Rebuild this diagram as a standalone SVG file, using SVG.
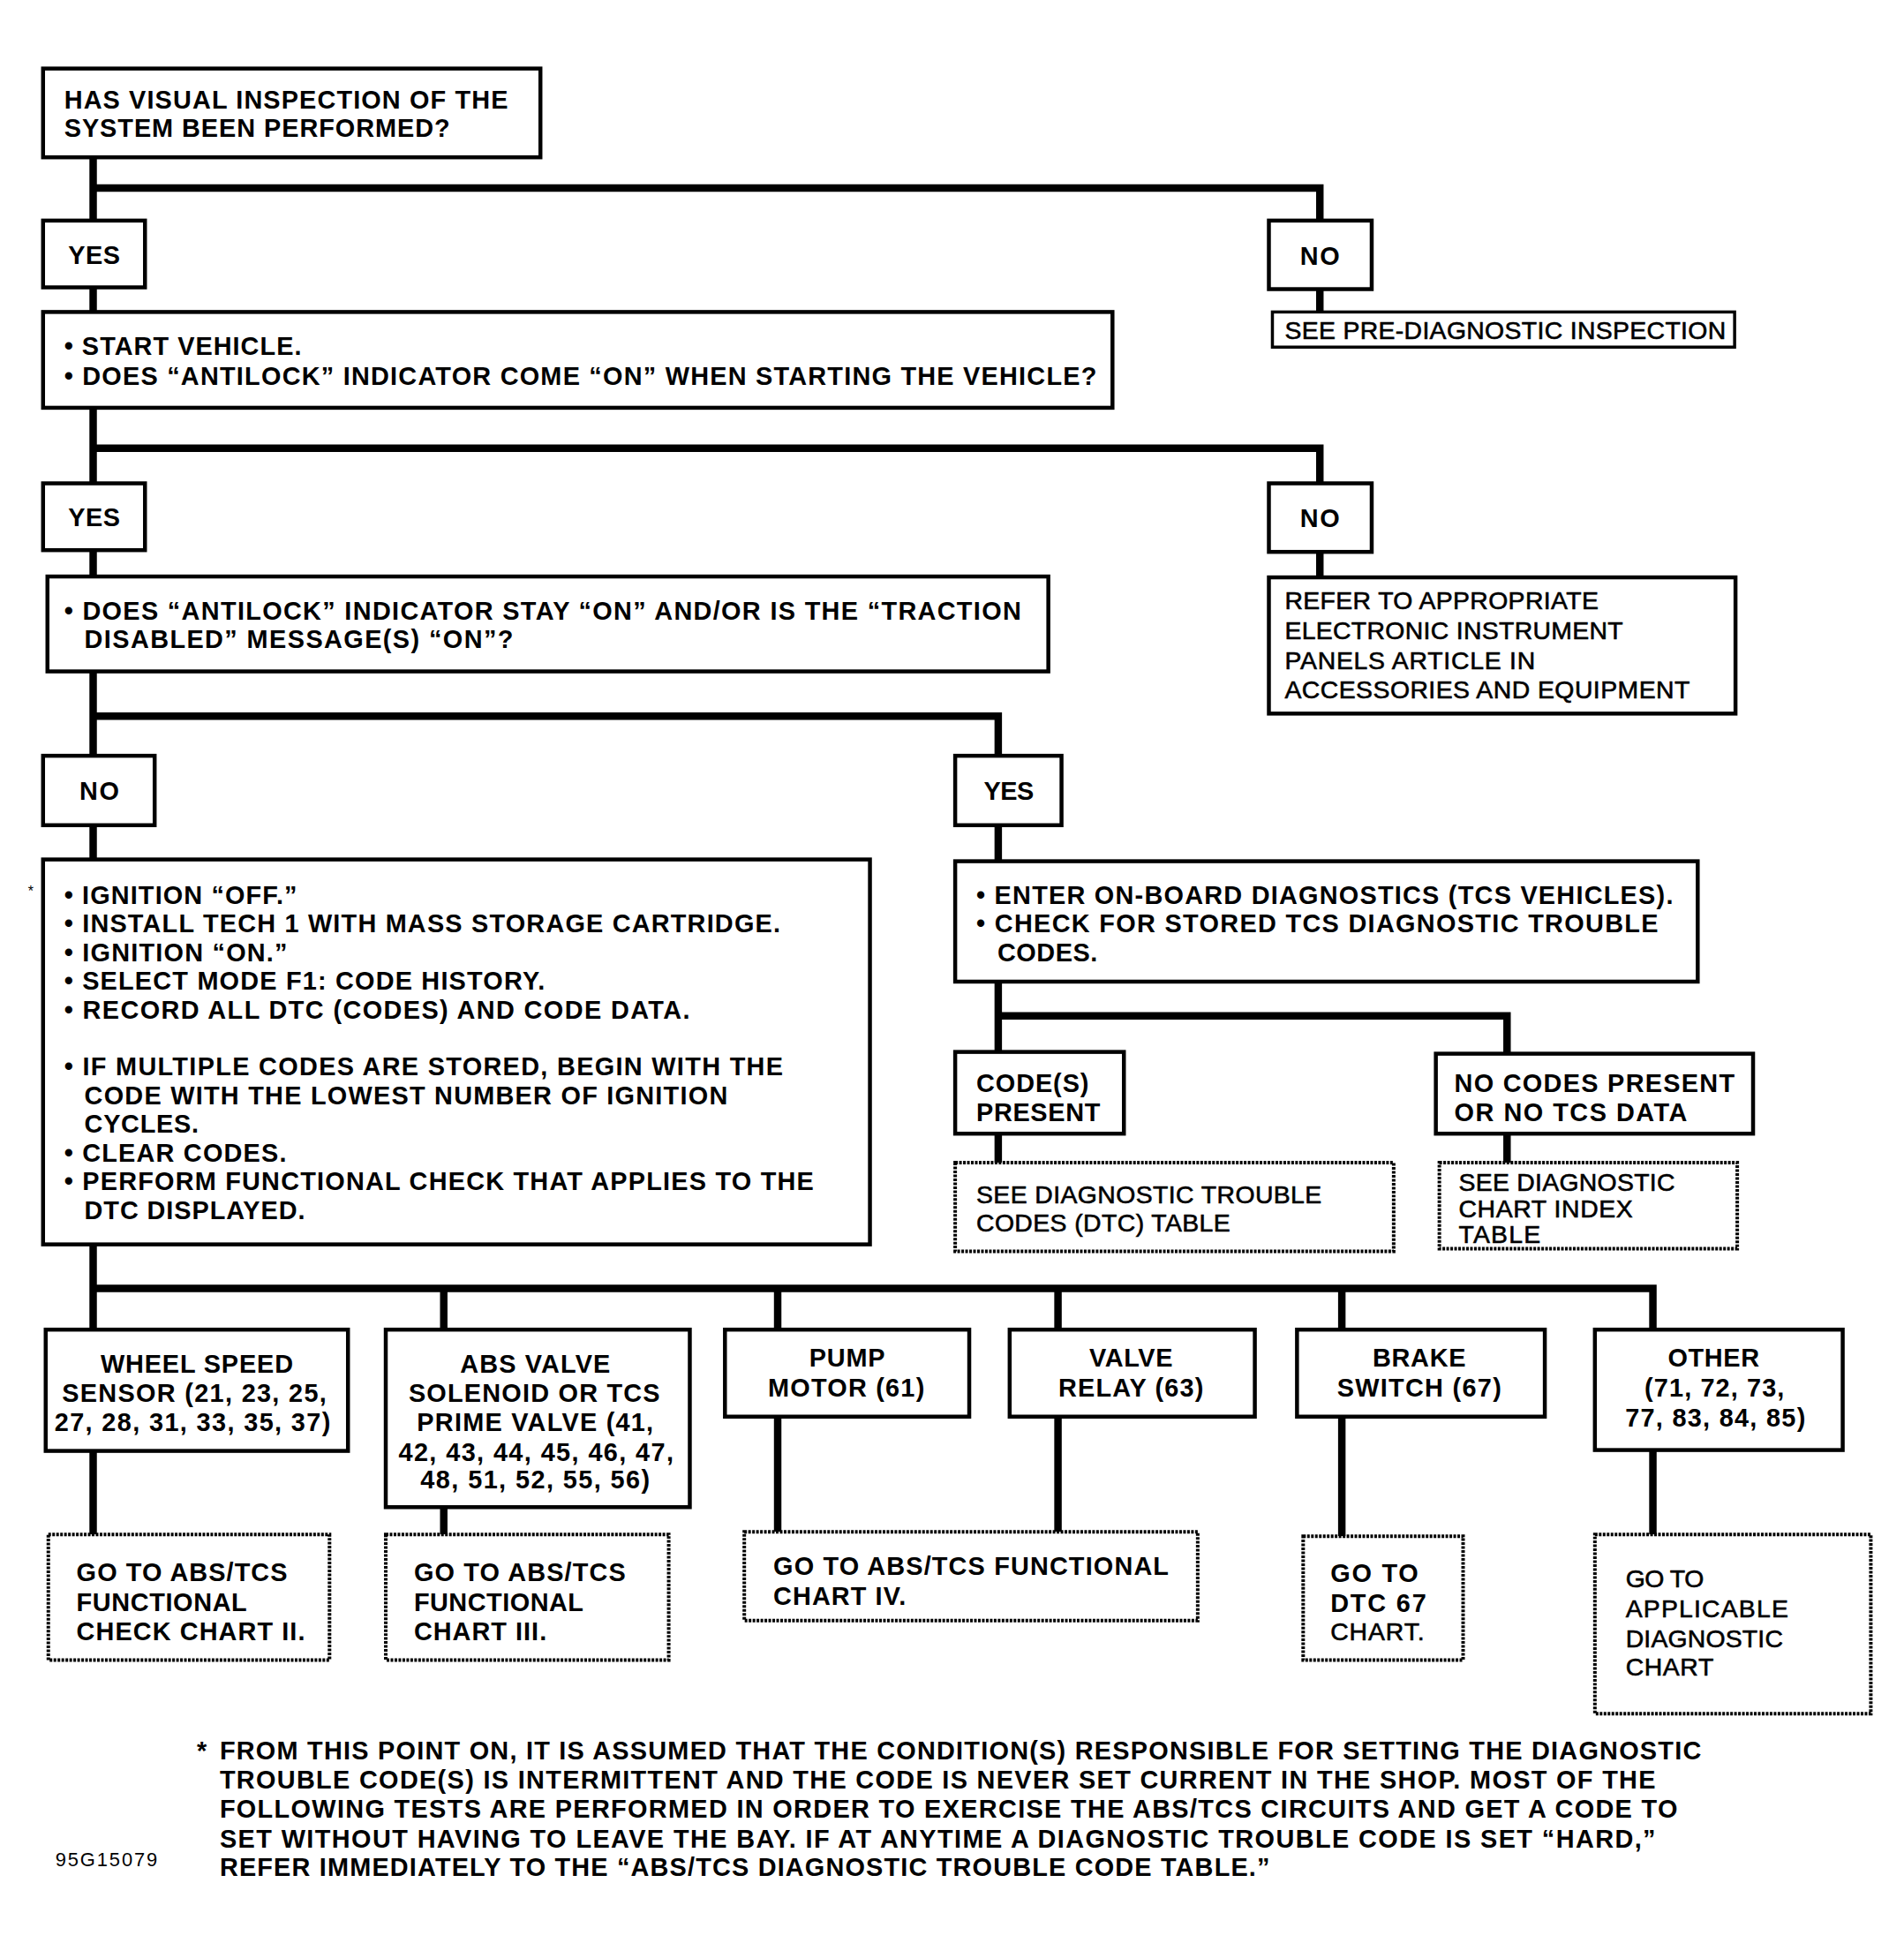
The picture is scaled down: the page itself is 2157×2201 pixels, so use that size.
<svg xmlns="http://www.w3.org/2000/svg" width="2157" height="2201" viewBox="0 0 2157 2201">
<style>
.box{fill:#fff;stroke:#000;stroke-width:4.5}
.thin{stroke-width:3.5}
.dash{fill:#fff;stroke:#000;stroke-width:4;stroke-dasharray:3 1.5}
text{font-family:"Liberation Sans",Arial,Helvetica,sans-serif;font-weight:bold;font-size:29px;fill:#000}
.m{font-weight:normal;font-size:28.5px;stroke:#000;stroke-width:0.6}
.c{text-anchor:middle}
.conn path{fill:none;stroke:#000;stroke-width:8.5;stroke-linejoin:miter;stroke-linecap:butt}
</style>
<rect width="2157" height="2201" fill="#fff"/>
<g transform="scale(0.9955)">
<g class="conn" id="connectors">
<path d="M106,179V251"/>
<path d="M106,214H1502V251"/>
<path d="M106,327V355"/>
<path d="M1502,329V355"/>
<path d="M106,464V550"/>
<path d="M106,510H1502V550"/>
<path d="M106,626V656"/>
<path d="M1502,628V657"/>
<path d="M106,764V860"/>
<path d="M106,815H1136V860"/>
<path d="M106,939V978"/>
<path d="M1136,939V980"/>
<path d="M1136,1117V1197"/>
<path d="M1136,1156H1715V1199"/>
<path d="M1136,1290V1323"/>
<path d="M1715,1290V1323"/>
<path d="M106,1416V1513"/>
<path d="M106,1466H1881V1513"/>
<path d="M505,1466V1513"/>
<path d="M885,1466V1513"/>
<path d="M1204,1466V1513"/>
<path d="M1527,1466V1513"/>
<path d="M106,1651V1746"/>
<path d="M505,1715V1746"/>
<path d="M885,1612V1743"/>
<path d="M1204,1612V1743"/>
<path d="M1527,1612V1748"/>
<path d="M1881,1650V1746"/>
</g>
<g id="visual-inspection">
<rect class="box" x="49" y="78" width="566" height="101"/>
<text x="73" y="124" textLength="505">HAS VISUAL INSPECTION OF THE</text>
<text x="73" y="156" textLength="439">SYSTEM BEEN PERFORMED?</text>
</g>
<g id="yes1">
<rect class="box" x="49" y="251" width="116" height="76"/>
<text class="c" x="107" y="300" textLength="59">YES</text>
</g>
<g id="no1">
<rect class="box" x="1444" y="251" width="117" height="78"/>
<text class="c" x="1502" y="301" textLength="45">NO</text>
</g>
<g id="pre-diagnostic">
<rect class="box thin" x="1448" y="355" width="526" height="40"/>
<text class="m" x="1462" y="386" textLength="502">SEE PRE-DIAGNOSTIC INSPECTION</text>
</g>
<g id="start-vehicle">
<rect class="box" x="49" y="355" width="1217" height="109"/>
<text x="73" y="404" textLength="270">• START VEHICLE.</text>
<text x="73" y="438" textLength="1175">• DOES “ANTILOCK” INDICATOR COME “ON” WHEN STARTING THE VEHICLE?</text>
</g>
<g id="yes2">
<rect class="box" x="49" y="550" width="116" height="76"/>
<text class="c" x="107" y="599" textLength="59">YES</text>
</g>
<g id="no2">
<rect class="box" x="1444" y="550" width="117" height="78"/>
<text class="c" x="1502" y="600" textLength="45">NO</text>
</g>
<g id="refer">
<rect class="box" x="1444" y="657" width="531" height="155"/>
<text class="m" x="1462" y="693" textLength="357">REFER TO APPROPRIATE</text>
<text class="m" x="1462" y="727" textLength="385">ELECTRONIC INSTRUMENT</text>
<text class="m" x="1462" y="761" textLength="285">PANELS ARTICLE IN</text>
<text class="m" x="1462" y="795" textLength="461">ACCESSORIES AND EQUIPMENT</text>
</g>
<g id="stay-on">
<rect class="box" x="54" y="656" width="1139" height="108"/>
<text x="73" y="705" textLength="1089">• DOES “ANTILOCK” INDICATOR STAY “ON” AND/OR IS THE “TRACTION</text>
<text x="96" y="737" textLength="488">DISABLED” MESSAGE(S) “ON”?</text>
</g>
<g id="no3">
<rect class="box" x="49" y="860" width="127" height="79"/>
<text class="c" x="113" y="910" textLength="45">NO</text>
</g>
<g id="yes3">
<rect class="box" x="1087" y="860" width="121" height="79"/>
<text class="c" x="1148" y="910" textLength="57">YES</text>
</g>
<g id="ignition-steps">
<rect class="box" x="49" y="978" width="941" height="438"/>
<text x="32" y="1020" style="font-size:16px;font-weight:normal">*</text>
<text x="73" y="1029" textLength="265">• IGNITION “OFF.”</text>
<text x="73" y="1061" textLength="815">• INSTALL TECH 1 WITH MASS STORAGE CARTRIDGE.</text>
<text x="73" y="1094" textLength="254">• IGNITION “ON.”</text>
<text x="73" y="1126" textLength="547">• SELECT MODE F1: CODE HISTORY.</text>
<text x="73" y="1159" textLength="712">• RECORD ALL DTC (CODES) AND CODE DATA.</text>
<text x="73" y="1224" textLength="818">• IF MULTIPLE CODES ARE STORED, BEGIN WITH THE</text>
<text x="96" y="1257" textLength="732">CODE WITH THE LOWEST NUMBER OF IGNITION</text>
<text x="96" y="1289" textLength="130">CYCLES.</text>
<text x="73" y="1322" textLength="253">• CLEAR CODES.</text>
<text x="73" y="1354" textLength="853">• PERFORM FUNCTIONAL CHECK THAT APPLIES TO THE</text>
<text x="96" y="1387" textLength="251">DTC DISPLAYED.</text>
</g>
<g id="on-board-diagnostics">
<rect class="box" x="1087" y="980" width="845" height="137"/>
<text x="1111" y="1029" textLength="793">• ENTER ON-BOARD DIAGNOSTICS (TCS VEHICLES).</text>
<text x="1111" y="1061" textLength="776">• CHECK FOR STORED TCS DIAGNOSTIC TROUBLE</text>
<text x="1135" y="1094" textLength="114">CODES.</text>
</g>
<g id="codes-present">
<rect class="box" x="1087" y="1197" width="192" height="93"/>
<text x="1111" y="1243" textLength="128">CODE(S)</text>
<text x="1111" y="1276" textLength="141">PRESENT</text>
</g>
<g id="no-codes">
<rect class="box" x="1634" y="1199" width="361" height="91"/>
<text x="1655" y="1243" textLength="319">NO CODES PRESENT</text>
<text x="1655" y="1276" textLength="265">OR NO TCS DATA</text>
</g>
<g id="dtc-table">
<rect class="dash" x="1087" y="1323" width="499" height="101"/>
<text class="m" x="1111" y="1369" textLength="393">SEE DIAGNOSTIC TROUBLE</text>
<text class="m" x="1111" y="1401" textLength="289">CODES (DTC) TABLE</text>
</g>
<g id="chart-index">
<rect class="dash" x="1638" y="1323" width="339" height="98"/>
<text class="m" x="1660" y="1355" textLength="246">SEE DIAGNOSTIC</text>
<text class="m" x="1660" y="1385" textLength="198">CHART INDEX</text>
<text class="m" x="1660" y="1414" textLength="93">TABLE</text>
</g>
<g id="wheel-speed">
<rect class="box" x="52" y="1513" width="344" height="138"/>
<text class="c" x="224" y="1562" textLength="219">WHEEL SPEED</text>
<text class="c" x="221" y="1595" textLength="301">SENSOR (21, 23, 25,</text>
<text class="c" x="219" y="1628" textLength="314">27, 28, 31, 33, 35, 37)</text>
</g>
<g id="abs-valve">
<rect class="box" x="439" y="1513" width="346" height="202"/>
<text class="c" x="609" y="1562" textLength="171">ABS VALVE</text>
<text class="c" x="608" y="1595" textLength="286">SOLENOID OR TCS</text>
<text class="c" x="609" y="1628" textLength="269">PRIME VALVE (41,</text>
<text class="c" x="610" y="1662" textLength="313">42, 43, 44, 45, 46, 47,</text>
<text class="c" x="609" y="1694" textLength="261">48, 51, 52, 55, 56)</text>
</g>
<g id="pump-motor">
<rect class="box" x="825" y="1513" width="278" height="99"/>
<text class="c" x="964" y="1555" textLength="86">PUMP</text>
<text class="c" x="963" y="1589" textLength="178">MOTOR (61)</text>
</g>
<g id="valve-relay">
<rect class="box" x="1149" y="1513" width="279" height="99"/>
<text class="c" x="1287" y="1555" textLength="95">VALVE</text>
<text class="c" x="1287" y="1589" textLength="165">RELAY (63)</text>
</g>
<g id="brake-switch">
<rect class="box" x="1476" y="1513" width="282" height="99"/>
<text class="c" x="1615" y="1555" textLength="106">BRAKE</text>
<text class="c" x="1615" y="1589" textLength="187">SWITCH (67)</text>
</g>
<g id="other">
<rect class="box" x="1815" y="1513" width="282" height="137"/>
<text class="c" x="1950" y="1555" textLength="104">OTHER</text>
<text class="c" x="1951" y="1589" textLength="159">(71, 72, 73,</text>
<text class="c" x="1952" y="1623" textLength="205">77, 83, 84, 85)</text>
</g>
<g id="chart-ii">
<rect class="dash" x="55" y="1746" width="320" height="143"/>
<text x="87" y="1799" textLength="240">GO TO ABS/TCS</text>
<text x="87" y="1833" textLength="194">FUNCTIONAL</text>
<text x="87" y="1866" textLength="260">CHECK CHART II.</text>
</g>
<g id="chart-iii">
<rect class="dash" x="439" y="1746" width="322" height="143"/>
<text x="471" y="1799" textLength="241">GO TO ABS/TCS</text>
<text x="471" y="1833" textLength="193">FUNCTIONAL</text>
<text x="471" y="1866" textLength="151">CHART III.</text>
</g>
<g id="chart-iv">
<rect class="dash" x="847" y="1743" width="516" height="101"/>
<text x="880" y="1792" textLength="450">GO TO ABS/TCS FUNCTIONAL</text>
<text x="880" y="1826" textLength="151">CHART IV.</text>
</g>
<g id="dtc-67">
<rect class="dash" x="1483" y="1748" width="182" height="141"/>
<text x="1514" y="1800" textLength="100">GO TO</text>
<text x="1514" y="1834" textLength="109">DTC 67</text>
<text class="m" x="1514" y="1866" textLength="107">CHART.</text>
</g>
<g id="applicable-chart">
<rect class="dash" x="1815" y="1746" width="314" height="204"/>
<text class="m" x="1850" y="1806" textLength="89">GO TO</text>
<text class="m" x="1850" y="1840" textLength="185">APPLICABLE</text>
<text class="m" x="1850" y="1874" textLength="179">DIAGNOSTIC</text>
<text class="m" x="1850" y="1907" textLength="100">CHART</text>
</g>
<g id="footnote">
<text x="224" y="2002">*</text>
<text x="250" y="2002" textLength="1686">FROM THIS POINT ON, IT IS ASSUMED THAT THE CONDITION(S) RESPONSIBLE FOR SETTING THE DIAGNOSTIC</text>
<text x="250" y="2035" textLength="1634">TROUBLE CODE(S) IS INTERMITTENT AND THE CODE IS NEVER SET CURRENT IN THE SHOP. MOST OF THE</text>
<text x="250" y="2068" textLength="1659">FOLLOWING TESTS ARE PERFORMED IN ORDER TO EXERCISE THE ABS/TCS CIRCUITS AND GET A CODE TO</text>
<text x="250" y="2102" textLength="1634">SET WITHOUT HAVING TO LEAVE THE BAY. IF AT ANYTIME A DIAGNOSTIC TROUBLE CODE IS SET “HARD,”</text>
<text x="250" y="2135" textLength="1195">REFER IMMEDIATELY TO THE “ABS/TCS DIAGNOSTIC TROUBLE CODE TABLE.”</text>
<text x="63" y="2124" textLength="116" style="font-weight:normal;font-size:22px">95G15079</text>
</g>
</g>
</svg>
